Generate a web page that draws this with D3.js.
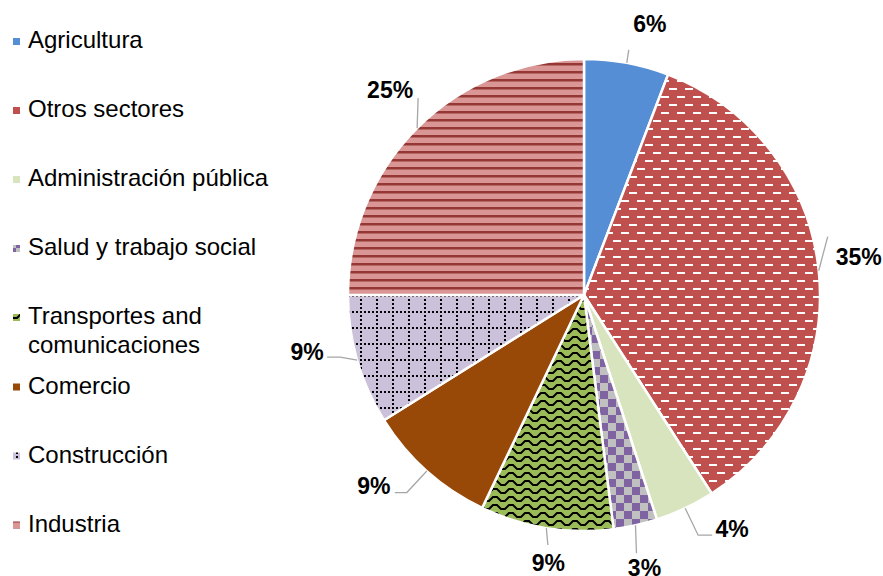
<!DOCTYPE html>
<html>
<head>
<meta charset="utf-8">
<script src="https://cdn.jsdelivr.net/npm/d3@7"></script>
<style>
  body { margin: 0; background: #fff; }
  svg { display: block; font-family: "Liberation Sans", Arial, sans-serif; }
</style>
</head>
<body>
<svg id="chart" width="883" height="576"></svg>
<script>
const categories = [
  "Agricultura",
  "Otros sectores",
  "Administración pública",
  "Salud y trabajo social",
  "Transportes and comunicaciones",
  "Comercio",
  "Construcción",
  "Industria",
];
const shares = [5.8, 35.1, 4.1, 3.0, 9.1, 9.0, 8.9, 25.0];
const fills = [
  "#558ED5",
  "url(#p_otros)",
  "#D7E4BD",
  "url(#p_salud)",
  "url(#p_transp)",
  "#984807",
  "url(#p_constr)",
  "url(#p_indus)",
];

// label placement relative to the slice edge point (leader bend points + text baseline centre)
const labelLayout = [
  { lead: [[2, -13]], text: [23, -31] },
  { lead: [[9, -34]], text: [40, -6] },
  { lead: [[13, 27], [27, 27]], text: [47, 29] },
  { lead: [[1, 28]], text: [9, 51] },
  { lead: [[1.5, 17]], text: [2, 43] },
  { lead: [[-20, 21.5], [-32, 21.5]], text: [-53, 22.5] },
  { lead: [[-17, -3], [-30, -3]], text: [-50, 0] },
  { lead: [[1, -30]], text: [-27, -30] },
];

const cx = 584, cy = 295, radius = 236;
const svg = d3.select("#chart");
const defs = svg.append("defs");

// patterns
const pOtros = defs.append("pattern").attr("id", "p_otros")
  .attr("patternUnits", "userSpaceOnUse").attr("width", 16).attr("height", 16);
pOtros.append("rect").attr("width", 16).attr("height", 16).attr("fill", "#C0504D");
[[5, 1, 8], [13, 9, 3], [0, 9, 5]].forEach(([x, y, w]) =>
  pOtros.append("rect").attr("x", x).attr("y", y).attr("width", w).attr("height", 2).attr("fill", "#fff"));

const pSalud = defs.append("pattern").attr("id", "p_salud")
  .attr("patternUnits", "userSpaceOnUse").attr("width", 16).attr("height", 16);
pSalud.append("rect").attr("width", 16).attr("height", 16).attr("fill", "#C0C0C0");
[[0, 0], [8, 8]].forEach(([x, y]) =>
  pSalud.append("rect").attr("x", x).attr("y", y).attr("width", 8).attr("height", 8).attr("fill", "#8064A2"));

const pTransp = defs.append("pattern").attr("id", "p_transp")
  .attr("patternUnits", "userSpaceOnUse").attr("width", 16).attr("height", 8);
pTransp.append("rect").attr("width", 16).attr("height", 8).attr("fill", "#9BBB59");
pTransp.append("path").attr("d", "M-1,6 L1,6 L5,2 L9,2 L13,6 L17,6")
  .attr("fill", "none").attr("stroke", "#000").attr("stroke-width", 2);

const pConstr = defs.append("pattern").attr("id", "p_constr")
  .attr("patternUnits", "userSpaceOnUse").attr("width", 16).attr("height", 16);
pConstr.append("rect").attr("width", 16).attr("height", 16).attr("fill", "#CCC1DA");
[[0, 0], [4, 0], [8, 0], [12, 0], [0, 4], [0, 8], [0, 12]].forEach(([x, y]) =>
  pConstr.append("rect").attr("x", x).attr("y", y).attr("width", 2).attr("height", 2).attr("fill", "#000"));

const pIndus = defs.append("pattern").attr("id", "p_indus")
  .attr("patternUnits", "userSpaceOnUse").attr("width", 8).attr("height", 8);
pIndus.append("rect").attr("width", 8).attr("height", 8).attr("fill", "#D99694");
pIndus.append("rect").attr("y", 0).attr("width", 8).attr("height", 2.5).attr("fill", "#953735");

// pie
const pie = d3.pie().sort(null).value((d) => d);
const arcs = pie(shares);
const arc = d3.arc().innerRadius(0).outerRadius(radius);

const g = svg.append("g").attr("transform", `translate(${cx},${cy})`);
g.selectAll("path.slice")
  .data(arcs)
  .enter()
  .append("path")
  .attr("class", "slice")
  .attr("d", arc)
  .attr("fill", (d, i) => fills[i])
  .attr("stroke", "#fff")
  .attr("stroke-width", 2.5)
  .attr("stroke-linejoin", "round");

// labels with leader lines
arcs.forEach((d, i) => {
  const mid = (d.startAngle + d.endAngle) / 2;
  const ex = radius * Math.sin(mid);
  const ey = -radius * Math.cos(mid);
  const lay = labelLayout[i];
  const pts = [[ex, ey]].concat(lay.lead.map(([dx, dy]) => [ex + dx, ey + dy]));
  g.append("path")
    .attr("d", d3.line()(pts))
    .attr("fill", "none")
    .attr("stroke", "#A6A6A6")
    .attr("stroke-width", 1.3);
  g.append("text")
    .attr("x", ex + lay.text[0])
    .attr("y", ey + lay.text[1])
    .attr("text-anchor", "middle")
    .attr("font-size", 23)
    .attr("font-weight", "bold")
    .attr("fill", "#000")
    .text(Math.round(d.data) + "%");
});

// legend
const legendBase = d3.scaleLinear().domain([0, 1]).range([48, 117]);
const legend = svg.append("g");
categories.forEach((name, i) => {
  const y = legendBase(i) + (i >= 5 ? 0.5 : 0);
  legend.append("rect")
    .attr("x", 13).attr("y", y - 10)
    .attr("width", 7).attr("height", 7)
    .attr("fill", fills[i]);
  const t = legend.append("text")
    .attr("x", 28).attr("y", y)
    .attr("font-size", 24)
    .attr("fill", "#000");
  if (name === "Transportes and comunicaciones") {
    t.append("tspan").attr("x", 28).text("Transportes and");
    t.append("tspan").attr("x", 28).attr("dy", 28.7).text("comunicaciones");
  } else {
    t.text(name);
  }
});
</script>
</body>
</html>
